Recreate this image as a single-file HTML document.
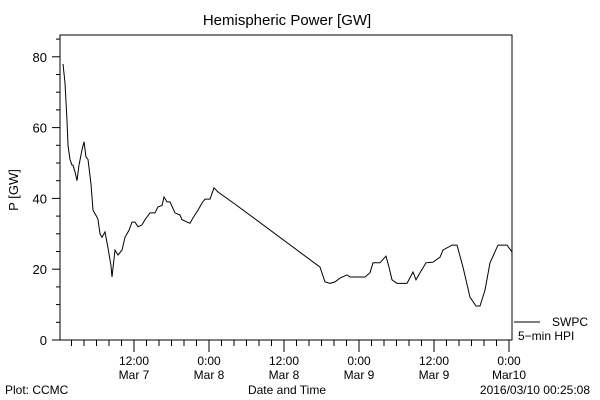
<!DOCTYPE html>
<html><head><meta charset="utf-8"><style>
body{margin:0;background:#fff;}
svg{display:block;font-family:"Liberation Sans",sans-serif;}
text{fill:#000;}
</style></head><body>
<svg id="chart" width="600" height="400" viewBox="0 0 600 400">
<rect width="600" height="400" fill="#fff"/>
<text x="287" y="25" font-size="15" text-anchor="middle">Hemispheric Power [GW]</text>
<rect x="60" y="35" width="452" height="305" fill="none" stroke="#000" stroke-width="1"/>
<g id="yaxis"></g>
<g id="xaxis"></g>
<text transform="translate(18,190) rotate(-90)" font-size="13" text-anchor="middle">P [GW]</text>
<text x="287" y="394" font-size="12" text-anchor="middle">Date and Time</text>
<text x="5" y="394" font-size="12">Plot: CCMC</text>
<text x="590" y="394" font-size="12" text-anchor="end">2016/03/10 00:25:08</text>
<g>
<line x1="514" y1="322" x2="540" y2="322" stroke="#000"/>
<text x="552" y="326" font-size="12">SWPC</text>
<text x="518" y="340" font-size="12">5−min HPI</text>
</g>
<path id="series" fill="none" stroke="#000" stroke-width="1"/>
</svg>
<script>
// hours since 2016-03-07 00:00 UT
const hours=[0.64,0.96,1.28,1.44,1.76,2.08,2.24,2.56,2.88,3.2,3.68,4.0,4.32,4.64,5.12,5.44,6.08,6.24,6.56,6.88,7.36,7.84,8.32,8.48,8.96,9.44,10.08,10.56,11.2,11.68,12.16,12.64,13.28,13.76,14.56,15.36,15.84,16.48,16.8,17.28,17.76,18.56,19.36,19.68,20.48,20.96,21.44,22.24,22.88,23.36,24.16,24.8,25.44,28.16,41.76,42.56,43.36,44.16,44.96,46.08,46.56,48.96,49.76,50.24,51.36,52.32,52.8,53.28,54.08,55.68,56.64,57.12,57.76,58.72,59.84,60.96,61.44,62.88,63.68,64.64,65.76,66.72,67.36,68.16,68.96,70.24,71.68,72.48];
const power=[78,72.6,62,55,51,49.4,49.4,47.5,45,49.4,53.7,56,51.7,51,44,36.7,34.7,34,30,29,30.5,26,21,17.8,25.4,24,25.4,29,31,33.3,33.3,32,32.5,34,35.9,35.9,37.6,38,40.4,39,39,35.9,35.3,34,33.3,33,34.5,36.7,38.7,39.8,39.8,43,41.8,38.4,20.6,16.4,16,16.4,17.5,18.4,17.8,17.8,19,21.8,21.8,23.7,20.6,17,16,16,19.2,17,19,21.8,22,23.4,25.4,26.8,26.8,20.6,12.1,9.6,9.6,14.1,21.8,26.8,26.8,24.9];
const yTicks=[0,20,40,60,80];
const xTickHours=[12,24,36,48,60,72];
const xTickLine1=["12:00","0:00","12:00","0:00","12:00","0:00"];
const xTickLine2=["Mar 7","Mar 8","Mar 8","Mar 9","Mar 9","Mar10"];

const NS="http://www.w3.org/2000/svg";
const X=h=>59+h*6.25;
const Y=v=>340-v*3.54;
function mk(tag,attrs,parent){const e=document.createElementNS(NS,tag);for(const k in attrs)e.setAttribute(k,attrs[k]);parent.appendChild(e);return e;}
const ya=document.getElementById('yaxis');
for(let v=0;v<=85;v+=5){
  const major=v%20===0;
  const t=mk('line',{x1:60,x2:major?52:56,y1:Y(v),y2:Y(v),stroke:'#000'},ya);
  
  
}
yTicks.forEach(v=>{
  const t=mk('text',{x:47,y:Y(v)+5,'font-size':13,'text-anchor':'end'},ya);
  t.textContent=v;
  
  
});
const xa=document.getElementById('xaxis');
for(let h=2;h<=72;h+=2){
  const major=h%12===0;
  const t=mk('line',{x1:X(h),x2:X(h),y1:340,y2:major?352:346,stroke:'#000'},xa);
  
  
}
xTickHours.forEach((h,i)=>{
  const a=mk('text',{x:X(h),y:365,'font-size':12,'text-anchor':'middle'},xa);
  a.textContent=xTickLine1[i];
  
  
  const b=mk('text',{x:X(h),y:379,'font-size':12,'text-anchor':'middle'},xa);
  b.textContent=xTickLine2[i];
  
  
});
document.getElementById('series').setAttribute('d',hours.map((h,i)=>(i?'L':'M')+X(h).toFixed(1)+' '+Y(power[i]).toFixed(1)).join(' '));
</script>
</body></html>
